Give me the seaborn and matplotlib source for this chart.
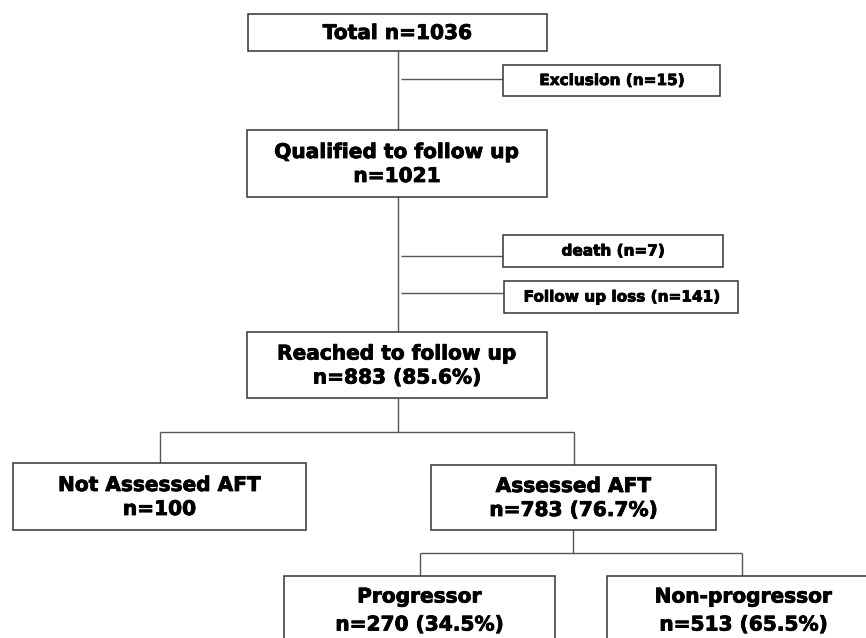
import matplotlib
matplotlib.use("Agg")
import matplotlib.pyplot as plt
import matplotlib.patches as mpatches
import matplotlib.patheffects as pe
import seaborn as sns

sns.set_theme(style="white")
plt.rcParams["font.family"] = ["DejaVu Sans"]

# flow counts
node_titles = ["Total", "Qualified to follow up", "Reached to follow up",
               "Not Assessed AFT", "Assessed AFT", "Progressor", "Non-progressor"]
node_counts = ["n=1036", "n=1021", "n=883 (85.6%)", "n=100",
               "n=783 (76.7%)", "n=270 (34.5%)", "n=513 (65.5%)"]
side_labels = ["Exclusion (n=15)", "death (n=7)", "Follow up loss (n=141)"]

# layout in pixels: (left, top, right, bottom)
node_boxes = [(248, 14, 547, 51), (247, 130, 547, 197), (247, 332, 547, 398),
              (13, 463, 306, 530), (431, 465, 716, 530), (284, 576, 555, 642),
              (607, 576, 880, 642)]
side_boxes = [(503, 65, 720, 96), (503, 235, 723, 267), (504, 281, 738, 313)]
side_line_y = [79, 256, 293]
trunk_x = 398

edge_col = "#333333"
line_col = "#555555"
heavy = [pe.withStroke(linewidth=0.6, foreground="black")]

fig = plt.figure(figsize=(8.66, 6.38), dpi=100)
ax = fig.add_axes([0, 0, 1, 1])
ax.set_xlim(0, 866)
ax.set_ylim(638, 0)
ax.axis("off")


def box(ax, b):
    l, t, r, bt = b
    ax.add_patch(mpatches.Rectangle((l, t), r - l, bt - t, facecolor="white",
                                    edgecolor=edge_col, linewidth=1.1, zorder=2))


def seg(ax, xs, ys):
    ax.plot(xs, ys, color=line_col, linewidth=1.0, zorder=1,
            solid_capstyle="butt")


def label(ax, x, y, s, size):
    ax.text(x, y, s, ha="center", va="center", fontsize=size,
            fontweight="bold", color="black", zorder=3, path_effects=heavy)


# main trunk
seg(ax, [trunk_x, trunk_x], [51, 332])
# branch from Reached
seg(ax, [trunk_x, trunk_x], [398, 432])
seg(ax, [160, 574], [432, 432])
seg(ax, [160, 160], [432, 463])
seg(ax, [574, 574], [432, 465])
# branch from Assessed
seg(ax, [573, 573], [530, 553])
seg(ax, [420, 742], [553, 553])
seg(ax, [420, 420], [553, 576])
seg(ax, [742, 742], [553, 576])

# side exits
for b, y in zip(side_boxes, side_line_y):
    seg(ax, [trunk_x + 3, b[0]], [y, y])

# main nodes
for i, (b, title, cnt) in enumerate(zip(node_boxes, node_titles, node_counts)):
    box(ax, b)
    cx = (b[0] + b[2]) / 2
    cy = (b[1] + b[3]) / 2
    if i == 0:
        label(ax, cx, cy + 1, f"{title} {cnt}", 14.5)
    else:
        if i >= 5:
            y1, y2 = 597, 625
        else:
            y1, y2 = cy - 11, cy + 13
        label(ax, cx, y1, title, 14.5)
        label(ax, cx, y2, cnt, 14.5)

# side boxes
for b, lab in zip(side_boxes, side_labels):
    box(ax, b)
    cx = (b[0] + b[2]) / 2
    cy = (b[1] + b[3]) / 2
    label(ax, cx, cy, lab, 11)

fig.savefig("out.png", dpi=100, facecolor="white")
